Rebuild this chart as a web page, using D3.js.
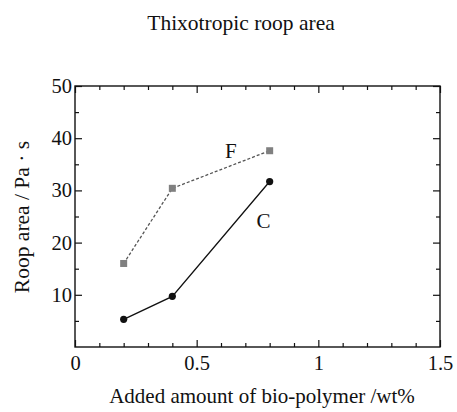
<!DOCTYPE html>
<html>
<head>
<meta charset="utf-8">
<script src="https://cdn.jsdelivr.net/npm/d3@7"></script>
<style>
  html, body { margin: 0; padding: 0; background: #fff; }
  svg { display: block; }
  text { font-family: "Liberation Serif", "Times New Roman", serif; fill: #111; }
</style>
</head>
<body>
<svg id="chart" width="457" height="412"></svg>
<script>
// ---- data ----
const xValues = [0.2, 0.4, 0.8];
const seriesF = [16.0, 30.4, 37.6];
const seriesC = [5.3, 9.7, 31.7];
const seriesNames = ["F", "C"];
const xMajorTicks = [0, 0.5, 1, 1.5];
const yMajorTicks = [10, 20, 30, 40, 50];
const titleText = "Thixotropic roop area";
const xLabelText = "Added amount of bio-polymer /wt%";
const yLabelText = "Roop area / Pa \u00B7 s";

// ---- layout ----
const svg = d3.select("#chart");
const L = 75, R = 440, T = 86, B = 347;
const x = d3.scaleLinear().domain([0, 1.5]).range([L, R]);
const y = d3.scaleLinear().domain([0, 50]).range([B, T]);

const xMinor = d3.range(0, 1.5001, 0.1).filter(v => !xMajorTicks.some(m => Math.abs(m - v) < 1e-6));
const yMinor = d3.range(0, 50.001, 5).filter(v => !yMajorTicks.concat([0]).some(m => Math.abs(m - v) < 1e-6));

function styleAxis(g) {
  g.select(".domain").remove();
  g.selectAll("line").attr("stroke", "#111").attr("stroke-width", 1.2);
  g.selectAll("text").attr("font-size", 20.5).attr("fill", "#111");
}

// frame
svg.append("rect").attr("x", L).attr("y", T).attr("width", R - L).attr("height", B - T)
  .attr("fill", "none").attr("stroke", "#111").attr("stroke-width", 1.4);

// bottom axis
svg.append("g").attr("transform", `translate(0,${B})`)
  .call(d3.axisBottom(x).tickValues(xMajorTicks).tickSize(-7).tickPadding(8)
    .tickFormat(d => d3.format("")(d)))
  .call(styleAxis);
svg.append("g").attr("transform", `translate(0,${B})`)
  .call(d3.axisBottom(x).tickValues(xMinor).tickSize(-4).tickFormat(""))
  .call(styleAxis);
// top axis
svg.append("g").attr("transform", `translate(0,${T})`)
  .call(d3.axisTop(x).tickValues(xMajorTicks).tickSize(-7).tickFormat(""))
  .call(styleAxis);
svg.append("g").attr("transform", `translate(0,${T})`)
  .call(d3.axisTop(x).tickValues(xMinor).tickSize(-4).tickFormat(""))
  .call(styleAxis);
// left axis
svg.append("g").attr("transform", `translate(${L},0)`)
  .call(d3.axisLeft(y).tickValues(yMajorTicks).tickSize(-7).tickPadding(3))
  .call(styleAxis);
svg.append("g").attr("transform", `translate(${L},0)`)
  .call(d3.axisLeft(y).tickValues(yMinor).tickSize(-4).tickFormat(""))
  .call(styleAxis);
// right axis
svg.append("g").attr("transform", `translate(${R},0)`)
  .call(d3.axisRight(y).tickValues(yMajorTicks).tickSize(-7).tickFormat(""))
  .call(styleAxis);
svg.append("g").attr("transform", `translate(${R},0)`)
  .call(d3.axisRight(y).tickValues(yMinor).tickSize(-4).tickFormat(""))
  .call(styleAxis);

// lines
const line = d3.line().x(d => x(d[0])).y(d => y(d[1]));
const dataF = xValues.map((v, i) => [v, seriesF[i]]);
const dataC = xValues.map((v, i) => [v, seriesC[i]]);

svg.append("path").datum(dataF).attr("d", line)
  .attr("fill", "none").attr("stroke", "#555").attr("stroke-width", 1.3)
  .attr("stroke-dasharray", "3,2");
svg.append("path").datum(dataC).attr("d", line)
  .attr("fill", "none").attr("stroke", "#111").attr("stroke-width", 1.3);

svg.selectAll(".ptF").data(dataF).enter().append("rect")
  .attr("x", d => x(d[0]) - 3.5).attr("y", d => y(d[1]) - 3.5)
  .attr("width", 7).attr("height", 7).attr("fill", "#808080");
svg.selectAll(".ptC").data(dataC).enter().append("circle")
  .attr("cx", d => x(d[0])).attr("cy", d => y(d[1])).attr("r", 3.6)
  .attr("fill", "#111");

// series labels
svg.append("text").attr("x", x(0.64)).attr("y", y(37.6)).attr("dy", "0.35em")
  .attr("text-anchor", "middle").attr("font-size", 21).text(seriesNames[0]);
svg.append("text").attr("x", x(0.775)).attr("y", y(24.2)).attr("dy", "0.35em")
  .attr("text-anchor", "middle").attr("font-size", 21).text(seriesNames[1]);

// title & axis labels
svg.append("text").attr("x", 241).attr("y", 30).attr("text-anchor", "middle")
  .attr("font-size", 21.5).text(titleText);
svg.append("text").attr("x", 262).attr("y", 403).attr("text-anchor", "middle")
  .attr("font-size", 21).text(xLabelText);
svg.append("text").attr("transform", "translate(29,217) rotate(-90)")
  .attr("text-anchor", "middle").attr("font-size", 21.5).text(yLabelText);
</script>
</body>
</html>
